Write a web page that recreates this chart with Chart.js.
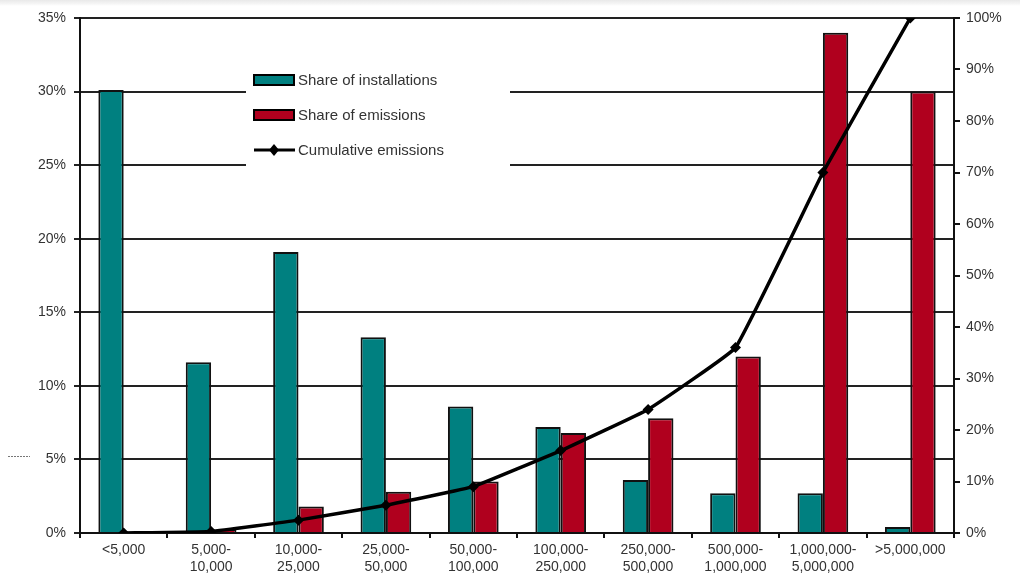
<!DOCTYPE html>
<html>
<head>
<meta charset="utf-8">
<script src="https://cdn.jsdelivr.net/npm/chart.js@4/dist/chart.umd.min.js"></script>
<style>
  html, body { margin: 0; padding: 0; background: #fff; }
  #wrap { position: relative; width: 1020px; height: 582px; background: linear-gradient(#e9e9e9 0, #f6f6f6 4px, #fff 6px); }
</style>
</head>
<body>
<div id="wrap"><canvas id="chart" width="1020" height="582"></canvas></div>
<script>
// categories (annual emissions, t CO2)
const categories = [
  ['<5,000'], ['5,000-', '10,000'], ['10,000-', '25,000'], ['25,000-', '50,000'],
  ['50,000-', '100,000'], ['100,000-', '250,000'], ['250,000-', '500,000'],
  ['500,000-', '1,000,000'], ['1,000,000-', '5,000,000'], ['>5,000,000']
];

// left axis, %
const shareInstallations = [30.1, 11.6, 19.1, 13.3, 8.6, 7.2, 3.6, 2.7, 2.7, 0.4];
const shareEmissions = [0.05, 0.2, 1.8, 2.8, 3.5, 6.8, 7.8, 12.0, 34.0, 30.0];

// right axis, %
const cumulativeEmissions = [0, 0.3, 2.5, 5.4, 9.0, 16.0, 24.0, 36.0, 70.0, 100.0];

const leftTicks = [0, 5, 10, 15, 20, 25, 30, 35];
const rightTicks = [0, 10, 20, 30, 40, 50, 60, 70, 80, 90, 100];

const tickFont = { family: 'Liberation Sans', size: 14 };

// legend drawn inside the plot area, on a white box over the grid lines
const insideLegend = {
  id: 'insideLegend',
  beforeDatasetsDraw(chart) {
    const ctx = chart.ctx;
    ctx.save();
    ctx.fillStyle = '#fff';
    ctx.fillRect(246, 62, 264, 104);

    const items = chart.data.datasets;
    ctx.font = '15px "Liberation Sans"';
    ctx.textBaseline = 'middle';
    ctx.textAlign = 'left';
    items.forEach((ds, i) => {
      const y = 80 + i * 35;
      if (ds.type === 'line') {
        ctx.strokeStyle = '#000';
        ctx.lineWidth = 3;
        ctx.beginPath();
        ctx.moveTo(254, y);
        ctx.lineTo(295, y);
        ctx.stroke();
        ctx.fillStyle = '#000';
        ctx.beginPath();
        ctx.moveTo(274, y - 6);
        ctx.lineTo(279, y);
        ctx.lineTo(274, y + 6);
        ctx.lineTo(269, y);
        ctx.closePath();
        ctx.fill();
      } else {
        ctx.fillStyle = ds.backgroundColor;
        ctx.strokeStyle = '#000';
        ctx.lineWidth = 2;
        ctx.fillRect(254, y - 5, 40, 10);
        ctx.strokeRect(254, y - 5, 40, 10);
      }
      ctx.fillStyle = '#333';
      ctx.fillText(ds.label, 298, y + 1);
    });

    // small dotted scan mark by the 5% label
    ctx.strokeStyle = '#777';
    ctx.lineWidth = 1;
    ctx.setLineDash([2, 1]);
    ctx.beginPath();
    ctx.moveTo(8, 456.5);
    ctx.lineTo(30, 456.5);
    ctx.stroke();
    ctx.restore();
  }
};

new Chart(document.getElementById('chart'), {
  data: {
    labels: categories,
    datasets: [
      {
        type: 'bar',
        label: 'Share of installations',
        data: shareInstallations,
        yAxisID: 'y',
        backgroundColor: '#008080',
        borderColor: '#111',
        borderWidth: 2,
        categoryPercentage: 0.58,
        barPercentage: 1,
        order: 1
      },
      {
        type: 'bar',
        label: 'Share of emissions',
        data: shareEmissions,
        yAxisID: 'y',
        backgroundColor: '#b0001e',
        borderColor: '#111',
        borderWidth: 2,
        categoryPercentage: 0.58,
        barPercentage: 1,
        order: 1
      },
      {
        type: 'line',
        label: 'Cumulative emissions',
        data: cumulativeEmissions,
        yAxisID: 'y1',
        borderColor: '#000',
        backgroundColor: '#000',
        borderWidth: 3.5,
        pointStyle: 'rectRot',
        pointRadius: 5.5,
        pointBorderWidth: 0,
        tension: 0.08,
        order: 0
      }
    ]
  },
  options: {
    responsive: false,
    animation: false,
    layout: { padding: { top: 18, left: 0, right: 0, bottom: 0 } },
    plugins: {
      legend: { display: false },
      tooltip: { enabled: false }
    },
    scales: {
      x: {
        offset: true,
        grid: {
          offset: true,
          drawOnChartArea: false,
          drawTicks: true,
          tickLength: 5,
          color: '#111',
          lineWidth: 2
        },
        border: { color: '#111', width: 2 },
        ticks: {
          font: tickFont,
          color: '#333',
          maxRotation: 0,
          autoSkip: false,
          padding: 4
        },
        afterFit(scale) { scale.height = 49; }
      },
      y: {
        position: 'left',
        min: 0,
        max: 35,
        afterBuildTicks(scale) { scale.ticks = leftTicks.map(v => ({ value: v })); },
        grid: {
          color: '#222',
          lineWidth: 2,
          tickLength: 6
        },
        border: { color: '#111', width: 2 },
        ticks: {
          font: tickFont,
          color: '#333',
          padding: 8,
          callback: v => v + '%'
        },
        afterFit(scale) { scale.width = 80; }
      },
      y1: {
        position: 'right',
        min: 0,
        max: 100,
        afterBuildTicks(scale) { scale.ticks = rightTicks.map(v => ({ value: v })); },
        grid: {
          drawOnChartArea: false,
          color: '#111',
          lineWidth: 2,
          tickLength: 6
        },
        border: { color: '#111', width: 2 },
        ticks: {
          font: tickFont,
          color: '#333',
          padding: 6,
          callback: v => v + '%'
        },
        afterFit(scale) { scale.width = 66; }
      }
    }
  },
  plugins: [insideLegend]
});
</script>
</body>
</html>
